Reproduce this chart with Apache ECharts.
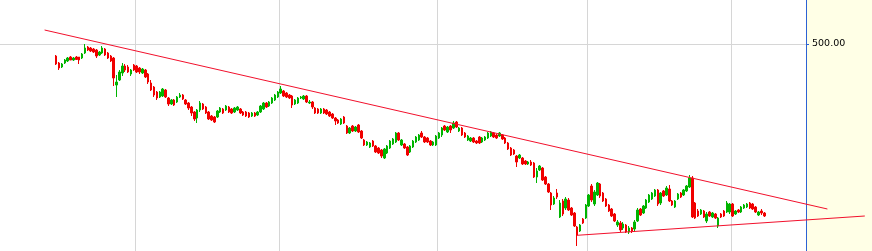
<!DOCTYPE html>
<html><head><meta charset="utf-8">
<script src="https://cdn.jsdelivr.net/npm/echarts@6/dist/echarts.min.js"></script>
<style>html,body{margin:0;padding:0;background:#ffffe6;overflow:hidden;width:872px;height:251px}
#c{position:absolute;left:0;top:-6px;width:872px;height:300px}</style>
</head><body><div id="c"></div>
<script>
// ---- data ----
const firstIndex = 19;          // slot of first candle
const totalSlots = 280;         // slots up to the price axis
const extendedSlots = 303;      // slots including the right margin area
const yearBoundaries = [47, 97, 152, 204, 254];
const priceLabel = '500.00';

const opens = [
488,481,477,481,483,487,484,487,487,486,
491,497,496,495,494,489,491,495,491,488,
486,459,464,471,478,477,470,479,478,476,
471,474,470,461,457,452,447,448,454,446,
440,444,442,447,449,444,441,437,432,426,
434,440,437,432,428,427,427,432,435,434,
437,435,432,434,435,432,432,431,428,431,
429,432,435,441,438,441,444,447,451,453,
451,449,448,440,441,446,445,448,441,442,
436,435,431,435,434,432,430,426,424,420,
427,418,411,418,413,419,413,404,399,397,
403,398,396,394,386,391,396,400,402,411,
399,400,397,392,397,402,404,411,407,406,
403,399,399,406,409,418,412,418,416,422,
413,416,411,404,403,406,403,407,402,404,
406,408,411,409,408,409,406,401,396,394,
388,386,386,383,380,382,381,367,374,376,
367,360,351,340,351,327,343,336,344,336,
331,317,313,325,326,338,358,340,349,360,
351,345,339,335,330,319,321,316,319,312,
316,315,323,335,331,336,342,345,348,354,
341,353,349,355,343,337,345,351,349,353,
357,366,341,333,330,333,323,332,327,330,
318,330,333,332,332,340,330,334,332,336,
337,341,340,337,329,333,331];

const closes = [
480,476,480,484,486,484,486,484.5,484,490,
496,494,493,492,488,492,496,489,486,483,
466,462,472,478,474,472,474,474,472,472,
475,467,462,454,449,446,452,455,447,440,
444,439,447,449,445,440,436,431,425,434,
441,435,431,425,424,422,433,436,431,438,
432,431,436,437,431,429,428,427,431,428,
432,438,441,437,442,446,449,452,455,448,
447,446,439,444,446,447,448,442,442,437,
431,431,435,431,430,428,426,423,421,425,
421,411,416,413,417,412,406,399,402,401,
398,392,391,388,395,398,403,405,411,404,
404,396,389,398,403,407,409,407,402,402,
399,402,408,411,416,414,417,414,421,417,
416,409,407,408,406,402,401,401,406,407,
411,412,407,406,411,405,401,395,389,390,
382,389,380,380,382,379,367,373,378,364,
360,352,339,346,347,341,330,345,334,329,
318,309,319,321,339,349,344,352,361,348,
343,338,333,328,323,322,314,320,312,316,
313,322,334,329,338,344,349,351,354,340,
351,348,356,343,339,343,350,347,354,358,
366,327,326,328,334,327,330,328,331,326,
326,327,328,341,340,328,333,332,337,339,
340,336,335,332,332,331,328];

const lows = [
479,474,476,480,482,484,483,484,480,485,
490,493,492,491,486,488,490,488,485,482,
458,447,463,468,472,471,468,473,471,470,
470,466,460,453,447,444,446,447,446,438,
439,438,441,446,444,439,434,428,423,421,
432,434,430,424,423,421,426,431,430,433,
431,430,431,433,430,428,427,426,427,427,
428,431,434,436,437,440,443,446,450,447,
446,445,436,439,440,445,444,441,440,435,
430,430,430,430,429,427,425,419,420,419,
420,410,410,412,412,411,405,398,398,396,
397,391,390,386,385,390,395,399,401,403,
398,395,388,391,396,401,403,406,401,401,
398,398,398,405,407,413,411,411,415,416,
412,408,406,403,402,401,400,400,401,403,
405,407,406,405,407,404,400,394,388,389,
377,385,379,379,379,378,366,361,373,363,
359,351,334,339,345,326,328,334,333,328,
317,298,312,320,325,337,342,338,348,346,
342,337,332,327,322,317,312,314,311,310,
311,312,322,328,330,335,341,344,347,338,
339,347,348,342,338,336,344,346,348,352,
356,326,325,327,329,326,321,327,326,325,
316,326,327,331,330,327,329,331,331,335,
336,335,334,331,328,329,327];

const highs = [
489,482,481,485,487,488,487,488,487,491,
500,498,497,496,495,493,498,496,492,489,
487,469,474,481,480,479,475,480,479,477,
476,475,471,464,458,453,453,456,455,447,
445,445,448,451,450,445,442,438,433,435,
443,441,438,433,429,428,434,437,436,439,
438,436,437,438,436,433,433,432,432,432,
433,439,442,442,443,447,450,453,458,454,
452,450,449,445,447,448,449,449,444,443,
437,436,436,436,435,433,431,427,425,426,
428,419,417,419,418,420,414,405,403,402,
404,399,397,395,396,399,404,406,412,412,
405,401,398,399,404,408,410,413,408,407,
404,403,409,412,417,419,418,419,423,423,
417,417,412,409,407,407,404,408,407,408,
412,413,412,410,412,410,407,402,397,395,
389,390,387,384,383,384,382,376,379,377,
368,361,352,348,355,344,345,347,346,337,
332,318,320,326,340,350,360,354,362,361,
352,346,340,336,331,324,323,322,320,318,
317,324,336,336,339,345,350,352,355,355,
352,354,358,359,344,344,351,352,355,359,
369,368,342,335,335,334,332,333,332,331,
327,331,334,343,341,341,334,335,338,340,
341,342,341,338,333,335,332];

// trend lines: [slot index, price]
const upperTrend = [[15, 514], [287, 335]];
const lowerTrend = [[200, 308.7], [300, 328]];

// ---- build ----
const categories = Array.from({length: totalSlots}, (_, i) => String(i));
const extCategories = Array.from({length: extendedSlots}, (_, i) => String(i));
const candleData = [];
for (let i = 0; i < firstIndex; i++) candleData.push('-');
for (let k = 0; k < opens.length; k++) candleData.push([opens[k], closes[k], lows[k], highs[k]]);

const UP = '#00b400', DOWN = '#f00000', GRIDC = '#d6d6d6', AXISC = '#2c62d4', TREND = '#f2102c';

const chart = echarts.init(document.getElementById('c'), null, {renderer: 'canvas'});
chart.setOption({
  animation: false,
  backgroundColor: '#ffffe6',
  grid: [
    {left: 0, right: 66, top: 0, bottom: 0, show: true, backgroundColor: '#ffffff', borderWidth: 0},
    {left: 0, right: 0, top: 0, bottom: 0}
  ],
  xAxis: [
    {type: 'category', gridIndex: 0, data: categories,
     axisLine: {show: false}, axisTick: {show: false}, axisLabel: {show: false},
     splitLine: {show: true, interval: (i) => yearBoundaries.includes(i), lineStyle: {color: GRIDC, width: 1}}},
    {type: 'category', gridIndex: 1, data: extCategories, show: false}
  ],
  yAxis: [
    {type: 'value', gridIndex: 0, position: 'right', min: 250, max: 550, interval: 250,
     axisLine: {show: true, lineStyle: {color: AXISC, width: 1}},
     axisTick: {show: true, length: 3, lineStyle: {color: AXISC}},
     axisLabel: {margin: 6, color: '#000', fontFamily: 'DejaVu Sans', fontSize: 9.5,
                 formatter: (v) => v === 500 ? priceLabel : ''},
     splitLine: {show: true, lineStyle: {color: GRIDC, width: 1}}},
    {type: 'value', gridIndex: 1, min: 250, max: 550, show: false, splitLine: {show: false}}
  ],
  series: [
    {type: 'candlestick', xAxisIndex: 0, yAxisIndex: 0, data: candleData, barWidth: 2,
     itemStyle: {color: UP, color0: DOWN, borderColor: UP, borderColor0: DOWN, borderWidth: 1}},
    {type: 'line', xAxisIndex: 1, yAxisIndex: 1, data: upperTrend, symbol: 'none', z: 5,
     lineStyle: {color: TREND, width: 1}},
    {type: 'line', xAxisIndex: 1, yAxisIndex: 1, data: lowerTrend, symbol: 'none', z: 5,
     lineStyle: {color: TREND, width: 1}}
  ]
});
</script></body></html>
